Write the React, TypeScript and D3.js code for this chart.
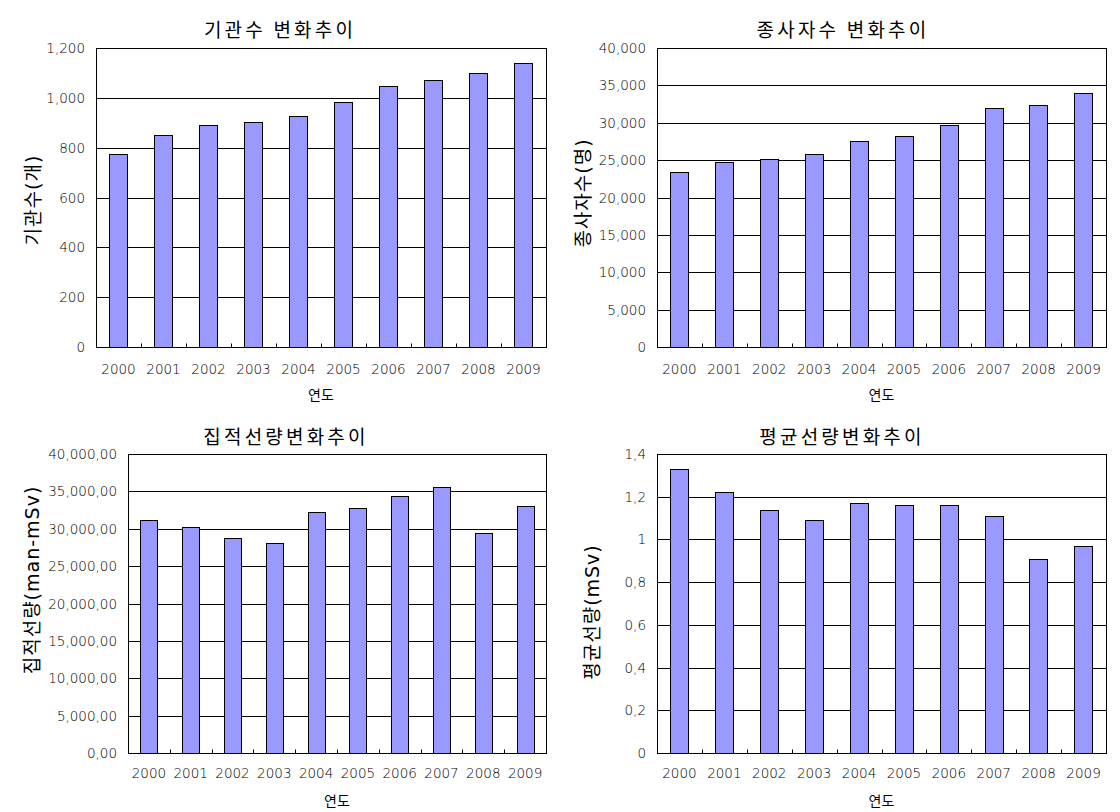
import React from "react";
import * as d3 from "d3";

const years = ["2000", "2001", "2002", "2003", "2004", "2005", "2006", "2007", "2008", "2009"];

const institutionCounts = [775, 851, 891, 903, 927, 983, 1047, 1071, 1100, 1140];
const workerCounts = [23400, 24750, 25150, 25820, 27560, 28230, 29700, 31970, 32380, 33980];
const collectiveDose = [31170, 30230, 28760, 28090, 32240, 32780, 34380, 35590, 29430, 33040];
const averageDose = [1.33, 1.22, 1.14, 1.09, 1.17, 1.16, 1.16, 1.11, 0.91, 0.97];

const ticksCount = [0, 200, 400, 600, 800, 1000, 1200];
const ticksWorkers = [0, 5000, 10000, 15000, 20000, 25000, 30000, 35000, 40000];
const ticksCollective = [0, 5000, 10000, 15000, 20000, 25000, 30000, 35000, 40000];
const ticksAverage = [0, 0.2, 0.4, 0.6, 0.8, 1.0, 1.2, 1.4];

const titles = ["기관수 변화추이", "종사자수 변화추이", "집적선량변화추이", "평균선량변화추이"];
const yTitles = ["기관수(개)", "종사자수(명)", "집적선량(man-mSv)", "평균선량(mSv)"];
const xTitle = "연도";

const fmtInt = d3.format(",");
const fmtColl = (v: number) => d3.format(",.2f")(v).replace(".", ",");
const fmtAvg = (v: number) => d3.format("~g")(+v.toFixed(1)).replace(".", ",");

const KFONT = "'Noto Sans CJK KR', 'Noto Sans', sans-serif";
const MIXFONT = "'DejaVu Sans', 'Noto Sans CJK KR', sans-serif";
const NFONT = "'DejaVu Sans', sans-serif";

type Panel = {
  values: number[];
  ticks: number[];
  fmt: (v: number) => string;
  title: string;
  yTitle: string;
  plot: { x0: number; x1: number; y0: number; y1: number };
  titlePos: { x: number; y: number };
  yTitlePos: { x: number; y: number };
  xTitleY: number;
  xLabelY: number;
};

const panels: Panel[] = [
  {
    values: institutionCounts, ticks: ticksCount, fmt: fmtInt, title: titles[0], yTitle: yTitles[0],
    plot: { x0: 96, x1: 546, y0: 48, y1: 347 }, titlePos: { x: 280, y: 28 }, yTitlePos: { x: 33, y: 200 },
    xTitleY: 394, xLabelY: 369,
  },
  {
    values: workerCounts, ticks: ticksWorkers, fmt: fmtInt, title: titles[1], yTitle: yTitles[1],
    plot: { x0: 657, x1: 1106, y0: 48, y1: 347 }, titlePos: { x: 843, y: 28 }, yTitlePos: { x: 583, y: 193 },
    xTitleY: 394, xLabelY: 369,
  },
  {
    values: collectiveDose, ticks: ticksCollective, fmt: fmtColl, title: titles[2], yTitle: yTitles[2],
    plot: { x0: 128, x1: 546, y0: 454, y1: 753 }, titlePos: { x: 286, y: 435 }, yTitlePos: { x: 32, y: 580 },
    xTitleY: 800, xLabelY: 773,
  },
  {
    values: averageDose, ticks: ticksAverage, fmt: fmtAvg, title: titles[3], yTitle: yTitles[3],
    plot: { x0: 657, x1: 1106, y0: 454, y1: 753 }, titlePos: { x: 842, y: 435 }, yTitlePos: { x: 592, y: 612 },
    xTitleY: 800, xLabelY: 773,
  },
];

function BarPanel({ p }: { p: Panel }) {
  const { x0, x1, y0, y1 } = p.plot;
  const x = d3.scaleBand<string>().domain(years).range([x0, x1]).paddingInner(0.59).paddingOuter(0.295);
  const y = d3.scaleLinear().domain([0, p.ticks[p.ticks.length - 1]]).range([y1, y0]);
  const step = x.step();
  const crisp = (v: number) => Math.round(v) + 0.5;
  return (
    <g>
      <text x={p.titlePos.x} y={p.titlePos.y} textAnchor="middle" dominantBaseline="central"
        fontFamily={KFONT} fontSize={19} letterSpacing={3.2} fill="#000">{p.title}</text>
      {/* gridlines */}
      {p.ticks.slice(1, -1).map((t) => (
        <line key={"g" + t} x1={x0} x2={x1} y1={crisp(y(t))} y2={crisp(y(t))} stroke="#000" strokeWidth={1} />
      ))}
      {/* bars */}
      {p.values.map((v, i) => (
        <rect key={"b" + i} x={Math.round(x(years[i])!) + 0.5} y={Math.round(y(v)) + 0.5}
          width={Math.round(x.bandwidth())} height={Math.round(y(0)) - Math.round(y(v))}
          fill="#9999FF" stroke="#000" strokeWidth={1} />
      ))}
      {/* plot border */}
      <rect x={crisp(x0)} y={crisp(y0)} width={Math.round(x1) - Math.round(x0)} height={Math.round(y1) - Math.round(y0)}
        fill="none" stroke="#000" strokeWidth={1} />
      {/* category tick marks */}
      {years.slice(1).map((yr, i) => (
        <line key={"t" + yr} x1={crisp(x0 + step * (i + 1))} x2={crisp(x0 + step * (i + 1))}
          y1={crisp(y1)} y2={crisp(y1) - 4} stroke="#000" strokeWidth={1} />
      ))}
      {/* y tick labels */}
      {p.ticks.map((t) => (
        <text key={"yl" + t} x={x0 - 11} y={y(t)} textAnchor="end" dominantBaseline="central"
          fontFamily={NFONT} fontWeight={200} fontSize={13.5} fill="#000">{p.fmt(t)}</text>
      ))}
      {/* x tick labels */}
      {years.map((yr) => (
        <text key={"xl" + yr} x={x(yr)! + x.bandwidth() / 2} y={p.xLabelY} textAnchor="middle"
          dominantBaseline="central" fontFamily={NFONT} fontWeight={200} fontSize={13.5} fill="#000">{yr}</text>
      ))}
      {/* axis titles */}
      <text x={(x0 + x1) / 2} y={p.xTitleY} textAnchor="middle" dominantBaseline="central"
        fontFamily={KFONT} fontSize={14} fill="#000">{xTitle}</text>
      <text transform={`translate(${p.yTitlePos.x},${p.yTitlePos.y}) rotate(-90)`} textAnchor="middle"
        dominantBaseline="central" fontFamily={MIXFONT} fontSize={19} letterSpacing={1} fill="#000">{p.yTitle}</text>
    </g>
  );
}

export default function App() {
  return (
    <svg width={1120} height={812} style={{ position: "absolute", left: 0, top: 0, background: "#fff" }}>
      <rect x={0} y={0} width={1120} height={812} fill="#fff" />
      {panels.map((p, i) => <BarPanel key={i} p={p} />)}
    </svg>
  );
}
